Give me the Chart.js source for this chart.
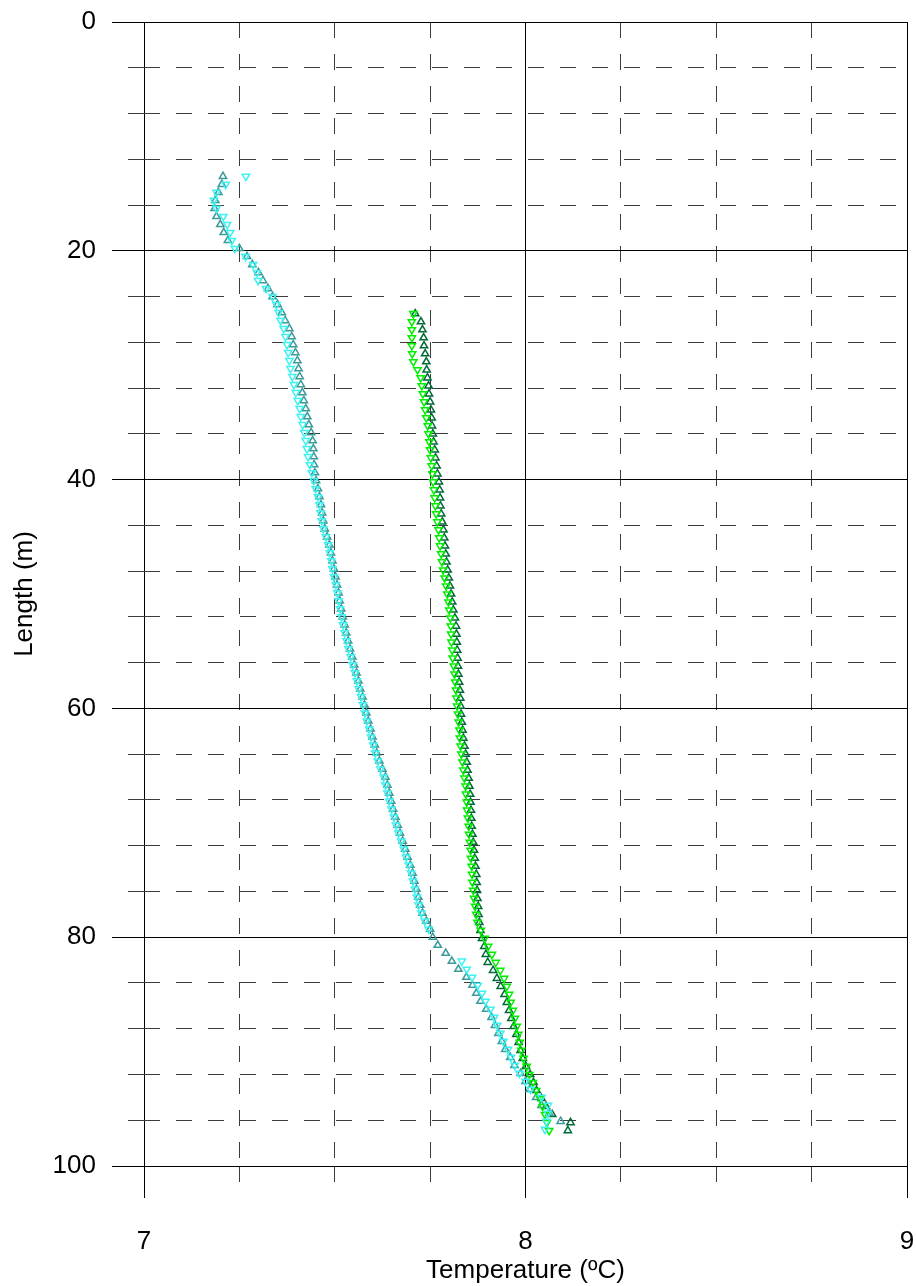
<!DOCTYPE html>
<html>
<head>
<meta charset="utf-8">
<script src="https://cdn.jsdelivr.net/npm/chart.js@4.4.1/dist/chart.umd.min.js"></script>
<style>
  html, body { margin: 0; padding: 0; background: #fff; }
</style>
</head>
<body>
<canvas id="profile" width="916" height="1286"></canvas>
<script>
// depth along the borehole (m), shared by the two left-hand series
var leftLength = [13.5, 14.2, 14.9, 15.6, 16.3, 17.0, 17.7, 18.4, 19.1, 19.8,
    20.5, 21.2, 21.9, 22.6, 23.3, 24.0, 24.7, 25.4, 26.1, 26.8,
    27.5, 28.2, 28.9, 29.6, 30.3, 31.0, 31.7, 32.4, 33.1, 33.8,
    34.5, 35.2, 35.9, 36.6, 37.3, 38.0, 38.7, 39.4, 40.1, 40.8,
    41.5, 42.2, 42.9, 43.6, 44.3, 45.0, 45.7, 46.4, 47.1, 47.8,
    48.5, 49.2, 49.9, 50.6, 51.3, 52.0, 52.7, 53.4, 54.1, 54.8,
    55.5, 56.2, 56.9, 57.6, 58.3, 59.0, 59.7, 60.4, 61.1, 61.8,
    62.5, 63.2, 63.9, 64.6, 65.3, 66.0, 66.7, 67.4, 68.1, 68.8,
    69.5, 70.2, 70.9, 71.6, 72.3, 73.0, 73.7, 74.4, 75.1, 75.8,
    76.5, 77.2, 77.9, 78.6, 79.3, 80.0, 80.7, 81.4, 82.1, 82.8,
    83.5, 84.2, 84.9, 85.6, 86.3, 87.0, 87.7, 88.4, 89.1, 89.8,
    90.5, 91.2, 91.9, 92.6, 93.3, 94.0, 94.7, 95.4, 96.1, 96.8];

// temperatures (deg C), teal up-triangles
var leftUp = [7.207, 7.204, 7.195, 7.187, 7.185, 7.190, 7.200, 7.209, 7.220, 7.250,
    7.270, 7.284, 7.300, 7.312, 7.325, 7.337, 7.350, 7.361, 7.370, 7.381,
    7.387, 7.391, 7.397, 7.402, 7.405, 7.408, 7.411, 7.415, 7.419, 7.424,
    7.428, 7.432, 7.438, 7.442, 7.444, 7.445, 7.446, 7.448, 7.451, 7.456,
    7.460, 7.464, 7.467, 7.470, 7.474, 7.480, 7.486, 7.490, 7.494, 7.498,
    7.502, 7.506, 7.510, 7.513, 7.517, 7.521, 7.526, 7.530, 7.535, 7.540,
    7.546, 7.551, 7.557, 7.562, 7.567, 7.573, 7.578, 7.583, 7.588, 7.594,
    7.599, 7.605, 7.610, 7.617, 7.625, 7.633, 7.638, 7.643, 7.648, 7.653,
    7.659, 7.665, 7.671, 7.678, 7.685, 7.691, 7.698, 7.704, 7.709, 7.714,
    7.719, 7.724, 7.730, 7.740, 7.750, 7.757, 7.770, 7.791, 7.807, 7.824,
    7.845, 7.861, 7.871, 7.882, 7.897, 7.911, 7.920, 7.929, 7.938, 7.947,
    7.960, 7.971, 7.987, 8.000, 8.011, 8.028, 8.042, 8.062, 8.092, null];

// temperatures (deg C), cyan down-triangles
var leftDown = [7.267, 7.214, 7.190, 7.183, 7.190, 7.208, 7.218, 7.226, 7.230, 7.238,
    7.266, 7.286, 7.296, 7.299, 7.320, 7.337, 7.347, 7.353, 7.358, 7.366,
    7.371, 7.375, 7.378, 7.381, 7.384, 7.389, 7.393, 7.398, 7.403, 7.408,
    7.411, 7.416, 7.420, 7.424, 7.427, 7.430, 7.435, 7.440, 7.445, 7.450,
    7.456, 7.460, 7.463, 7.466, 7.470, 7.477, 7.483, 7.487, 7.491, 7.494,
    7.498, 7.503, 7.507, 7.510, 7.514, 7.518, 7.522, 7.526, 7.531, 7.536,
    7.542, 7.547, 7.553, 7.558, 7.563, 7.569, 7.574, 7.579, 7.584, 7.590,
    7.595, 7.601, 7.606, 7.613, 7.620, 7.628, 7.633, 7.638, 7.643, 7.649,
    7.655, 7.661, 7.667, 7.674, 7.681, 7.687, 7.694, 7.700, 7.705, 7.710,
    7.715, 7.720, 7.727, 7.736, 7.746, null, null, null, 7.833, 7.846,
    7.860, 7.875, 7.886, 7.895, 7.908, 7.918, 7.926, 7.934, 7.942, 7.954,
    7.962, 7.972, 7.984, 8.000, 8.013, 8.042, 8.059, 8.059, 8.055, 8.051];

// depth (m) for the two right-hand series
var rightLength = [25.5, 26.2, 26.9, 27.6, 28.3, 29.0, 29.7, 30.4, 31.1, 31.8,
    32.5, 33.2, 33.9, 34.6, 35.3, 36.0, 36.7, 37.4, 38.1, 38.8,
    39.5, 40.2, 40.9, 41.6, 42.3, 43.0, 43.7, 44.4, 45.1, 45.8,
    46.5, 47.2, 47.9, 48.6, 49.3, 50.0, 50.7, 51.4, 52.1, 52.8,
    53.5, 54.2, 54.9, 55.6, 56.3, 57.0, 57.7, 58.4, 59.1, 59.8,
    60.5, 61.2, 61.9, 62.6, 63.3, 64.0, 64.7, 65.4, 66.1, 66.8,
    67.5, 68.2, 68.9, 69.6, 70.3, 71.0, 71.7, 72.4, 73.1, 73.8,
    74.5, 75.2, 75.9, 76.6, 77.3, 78.0, 78.7, 79.4, 80.1, 80.8,
    81.5, 82.2, 82.9, 83.6, 84.3, 85.0, 85.7, 86.4, 87.1, 87.8,
    88.5, 89.2, 89.9, 90.6, 91.3, 92.0, 92.7, 93.4, 94.1, 94.8,
    95.5, 96.2, 96.9];

// dark green up-triangles
var rightUp = [7.711, 7.726, 7.730, 7.733, 7.734, 7.737, 7.740, 7.741, 7.743, 7.746,
    7.747, 7.750, 7.752, 7.754, 7.755, 7.757, 7.759, 7.762, 7.764, 7.767,
    7.769, 7.773, 7.775, 7.776, 7.777, 7.779, 7.782, 7.785, 7.787, 7.789,
    7.791, 7.793, 7.796, 7.799, 7.802, 7.805, 7.808, 7.811, 7.815, 7.818,
    7.819, 7.820, 7.821, 7.822, 7.823, 7.824, 7.826, 7.828, 7.829, 7.830,
    7.831, 7.833, 7.835, 7.837, 7.840, 7.843, 7.846, 7.848, 7.851, 7.853,
    7.855, 7.856, 7.857, 7.858, 7.859, 7.861, 7.863, 7.865, 7.867, 7.869,
    7.871, 7.872, 7.873, 7.874, 7.876, 7.877, 7.879, 7.882, 7.886, 7.892,
    7.896, 7.901, 7.915, 7.925, 7.935, 7.945, 7.951, 7.957, 7.963, 7.969,
    7.976, 7.982, 7.987, 7.993, 8.001, 8.012, 8.021, 8.029, 8.042, 8.054,
    8.070, 8.118, 8.111];

// bright green down-triangles
var rightDown = [7.706, 7.702, 7.702, 7.702, 7.702, 7.703, 7.706, 7.717, 7.725, 7.728,
    7.731, 7.734, 7.737, 7.740, 7.744, 7.746, 7.748, 7.750, 7.752, 7.754,
    7.756, 7.758, 7.760, 7.762, 7.764, 7.766, 7.769, 7.772, 7.774, 7.776,
    7.779, 7.781, 7.784, 7.788, 7.792, 7.795, 7.798, 7.800, 7.803, 7.804,
    7.805, 7.806, 7.808, 7.809, 7.812, 7.814, 7.816, 7.818, 7.819, 7.821,
    7.823, 7.825, 7.827, 7.828, 7.830, 7.832, 7.835, 7.837, 7.840, 7.843,
    7.844, 7.846, 7.847, 7.849, 7.851, 7.852, 7.854, 7.856, 7.857, 7.859,
    7.860, 7.861, 7.863, 7.865, 7.868, 7.871, 7.874, 7.883, 7.893, 7.902,
    7.912, 7.922, 7.934, 7.944, 7.951, 7.957, 7.961, 7.967, 7.972, 7.977,
    7.981, 7.985, 7.989, 7.995, 8.003, 8.010, 8.019, 8.028, 8.038, 8.045,
    8.051, 8.056, 8.062];

var tempTicks = [7, 8, 9];          // labelled temperature ticks
var lengthTicks = [0, 20, 40, 60, 80, 100];  // labelled length ticks

function toPoints(temps, lengths) {
    var pts = [];
    for (var i = 0; i < temps.length; i++) {
        if (temps[i] !== null) pts.push({ x: temps[i], y: lengths[i] });
    }
    return pts;
}

function isLabel(list, v) {
    for (var i = 0; i < list.length; i++) {
        if (Math.abs(list[i] - v) < 1e-6) return true;
    }
    return false;
}

var fontSpec = { family: "'Liberation Sans', Arial, sans-serif", size: 26 };
var majorColor = '#000000';
var minorColor = '#3c3c3c';

function markerSet(label, data, color, down) {
    return {
        label: label,
        data: data,
        showLine: false,
        pointStyle: 'triangle',
        rotation: down ? 180 : 0,
        pointRadius: 4.2,
        pointBorderWidth: 1.5,
        borderColor: color,
        backgroundColor: 'rgba(0,0,0,0)'
    };
}

new Chart(document.getElementById('profile'), {
    type: 'scatter',
    data: {
        datasets: [
            markerSet('up 1', toPoints(leftDown, leftLength), '#3ff2f2', true),
            markerSet('up 2', toPoints(rightDown, rightLength), '#00f000', true),
            markerSet('down 1', toPoints(leftUp, leftLength), '#3b9a9a', false),
            markerSet('down 2', toPoints(rightUp, rightLength), '#006a38', false)
        ]
    },
    options: {
        responsive: false,
        animation: false,
        layout: { padding: { top: 22, right: 9, left: 0, bottom: 0 } },
        plugins: {
            legend: { display: false },
            tooltip: { enabled: false }
        },
        scales: {
            x: {
                type: 'linear',
                position: 'bottom',
                min: 7,
                max: 9,
                ticks: {
                    stepSize: 0.25,
                    autoSkip: false,
                    maxRotation: 0,
                    padding: 28,
                    color: '#000',
                    font: fontSpec,
                    callback: function (v) { return isLabel(tempTicks, v) ? String(v) : ''; }
                },
                grid: {
                    tickLength: 32,
                    color: function (c) { return isLabel(tempTicks, c.tick.value) ? majorColor : minorColor; },
                    tickColor: function (c) { return isLabel(tempTicks, c.tick.value) ? majorColor : minorColor; },
                    tickBorderDash: function (c) { return isLabel(tempTicks, c.tick.value) ? [] : [16, 16]; }
                },
                border: {
                    display: false,
                    dash: function (c) { return isLabel(tempTicks, c.tick.value) ? [] : [16, 16]; }
                },
                title: {
                    display: true,
                    text: 'Temperature (\u00baC)',
                    color: '#000',
                    font: fontSpec,
                    padding: { top: 0, bottom: 0 }
                },
                afterFit: function (s) {
                    s.height = 120;
                    s.paddingLeft = 0;
                    s.paddingRight = 0;
                }
            },
            y: {
                type: 'linear',
                reverse: true,
                min: 0,
                max: 100,
                ticks: {
                    stepSize: 4,
                    autoSkip: false,
                    padding: 16,
                    color: '#000',
                    font: fontSpec,
                    callback: function (v) { return isLabel(lengthTicks, v) ? String(v) : ''; }
                },
                grid: {
                    tickLength: 32,
                    color: function (c) { return isLabel(lengthTicks, c.tick.value) ? majorColor : minorColor; },
                    tickColor: function (c) { return isLabel(lengthTicks, c.tick.value) ? majorColor : minorColor; },
                    tickBorderDash: function (c) { return isLabel(lengthTicks, c.tick.value) ? [] : [16, 16]; },
                    tickBorderDashOffset: 16
                },
                border: {
                    display: false,
                    dash: function (c) { return isLabel(lengthTicks, c.tick.value) ? [] : [16, 16]; }
                },
                title: {
                    display: true,
                    text: 'Length (m)',
                    color: '#000',
                    font: fontSpec,
                    padding: { top: 9, bottom: 0 }
                },
                afterFit: function (s) {
                    s.width = 144;
                    s.paddingTop = 0;
                    s.paddingBottom = 0;
                }
            }
        }
    }
});
</script>
</body>
</html>
